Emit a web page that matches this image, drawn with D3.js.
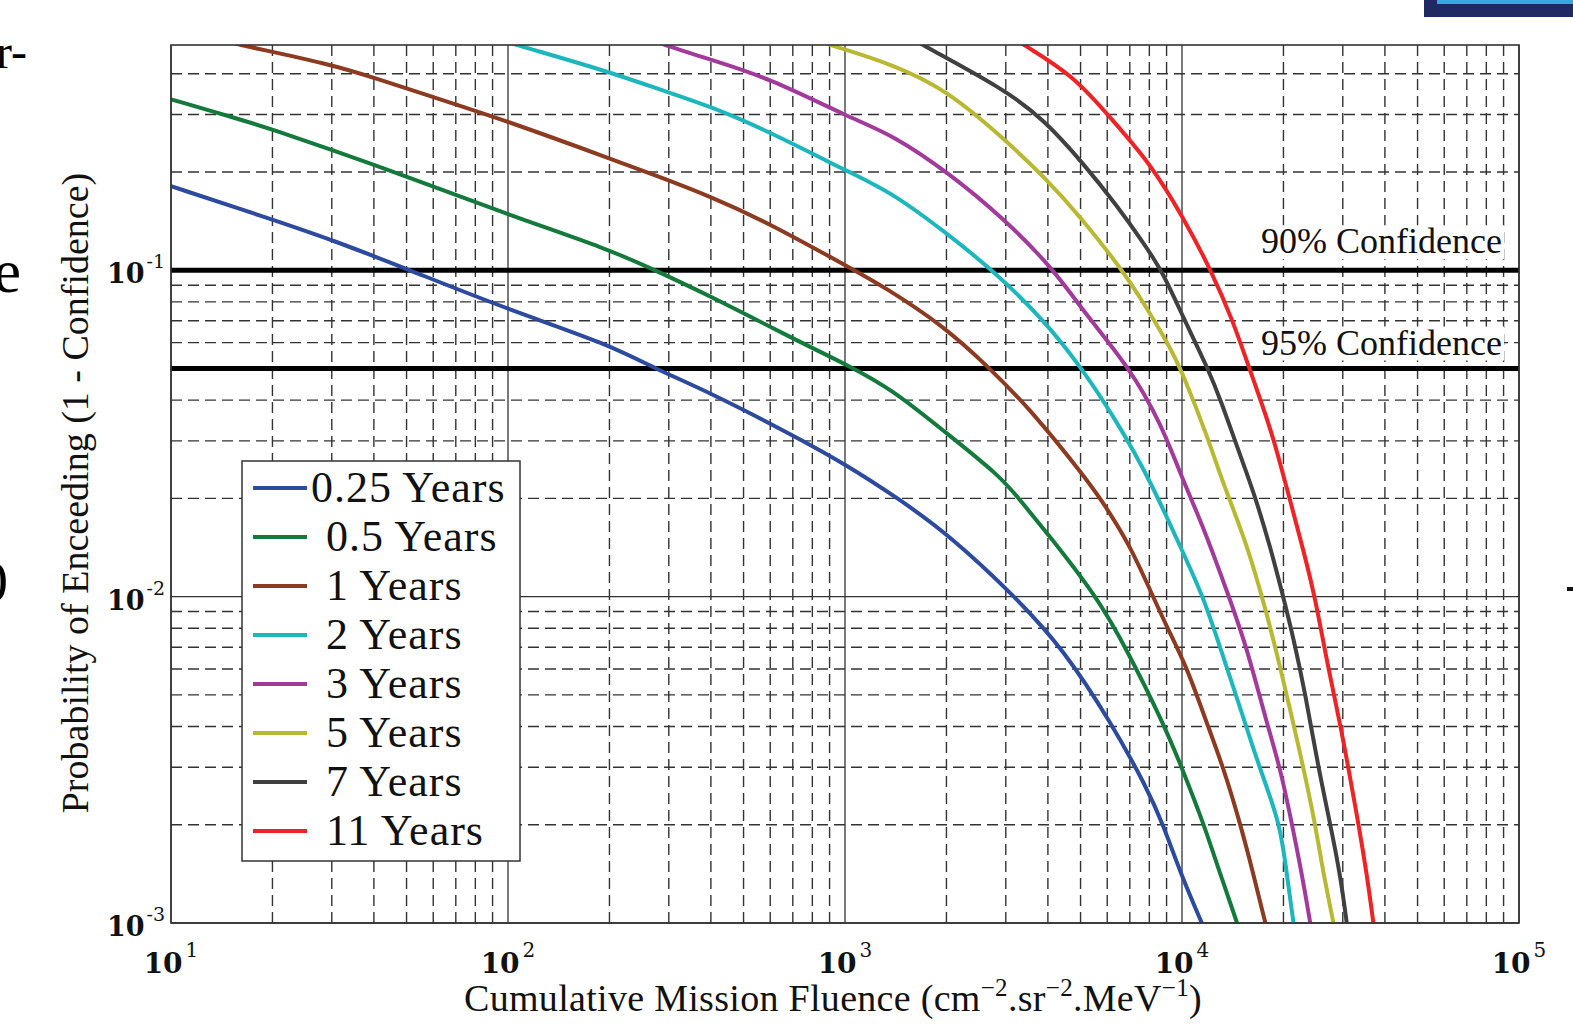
<!DOCTYPE html>
<html>
<head>
<meta charset="utf-8">
<script src="https://cdn.jsdelivr.net/npm/d3@7"></script>
<style>
  body { margin: 0; background: #fff; }
  svg { display: block; }
</style>
</head>
<body>
<svg width="1573" height="1028"></svg>
<script>
// Data ======================================================
// each series: [fluence, probability of exceeding]

var seriesNames = ["0.25 Years", "0.5 Years", "1 Years", "2 Years",
                   "3 Years", "5 Years", "7 Years", "11 Years"];
var seriesColors = ["#2c4b9e", "#137a3b", "#8c3a20", "#1db6bc",
                    "#a23a9c", "#b9b833", "#404040", "#ee2326"];

var years025 = [[10,0.181],[20,0.143],[30,0.124],[50,0.101],[100,0.0758],[200,0.0592],
  [270,0.0502],[400,0.0421],[710,0.031],[1000,0.0255],[1450,0.0199],[2060,0.0153],
  [3200,0.0100],[4450,0.0069],[6170,0.0041],[7830,0.00262],[8800,0.0020],[9900,0.00142],
  [11400,0.00101],[11700,0.00095]];
var years05 = [[10,0.334],[15.5,0.293],[20,0.270],[30,0.234],[50,0.194],[100,0.148],
  [200,0.1157],[270,0.1005],[400,0.0832],[710,0.0613],[1035,0.0508],[1380,0.0431],
  [1970,0.0321],[2890,0.0234],[3300,0.0198],[3970,0.0157],[5590,0.0100],
  [6850,0.0069],[8800,0.0041],[9980,0.0030],[11570,0.00203],[12960,0.00142],
  [14530,0.00101],[14800,0.00095]];
var years1 = [[15,0.50],[16,0.49],[30,0.427],[40,0.389],[59,0.341],[100,0.286],[198,0.221],
  [270,0.1965],[398,0.1686],[593,0.1397],[1035,0.1017],[1300,0.0893],[1970,0.0673],
  [2650,0.0508],[3560,0.0374],[5230,0.0228],[5980,0.0187],[7010,0.0143],[8035,0.0105],
  [9000,0.0081],[10330,0.0061],[11840,0.0041],[13260,0.0030],[14860,0.00203],
  [16270,0.00142],[17630,0.00101],[17900,0.00095]];
var years2 = [[100,0.50],[106,0.49],[198,0.407],[300,0.35],[398,0.318],[593,0.2667],
  [1035,0.199],[1380,0.1727],[2000,0.130],[2730,0.1005],[3890,0.0706],[5080,0.0496],
  [6440,0.0341],[8035,0.0228],[9980,0.0139],[11570,0.0100],[12960,0.0070],[14860,0.0046],
  [17040,0.00295],[19540,0.00203],[20450,0.00142],[21390,0.00101],[21600,0.00095]];
var years3 = [[280,0.50],[291,0.49],[398,0.442],[593,0.389],[1035,0.293],[1380,0.2605],
  [2030,0.199],[2980,0.143],[4130,0.1017],[5230,0.0723],[6935,0.0508],[8660,0.0341],
  [10040,0.0228],[11570,0.0164],[13880,0.0098],[15560,0.0070],[17840,0.0041],
  [19540,0.0030],[21160,0.00203],[22660,0.00142],[23990,0.00101],[24200,0.00095]];
var years5 = [[880,0.50],[898,0.49],[967,0.480],[1380,0.427],[2000,0.358],[2980,0.2514],
  [3890,0.194],[5080,0.143],[6630,0.1005],[7690,0.0795],[9190,0.0585],[10040,0.0485],
  [11990,0.0303],[13110,0.0228],[15560,0.0146],[17840,0.0089],[19540,0.0061],
  [21390,0.0041],[22900,0.0030],[24810,0.00203],[26260,0.00142],[28110,0.00101],[28400,0.00095]];
var years7 = [[1650,0.50],[1700,0.49],[2980,0.358],[3890,0.2895],[5080,0.2134],[6440,0.157],
  [7690,0.1213],[8790,0.0983],[10040,0.0723],[11990,0.0496],[13110,0.0392],[14320,0.0303],
  [15650,0.0235],[16660,0.0195],[18240,0.0143],[19970,0.0100],[21390,0.0075],
  [23170,0.0051],[25370,0.0030],[27480,0.00203],[29430,0.00142],[30800,0.00101],[31000,0.00095]];
var years11 = [[3300,0.50],[3400,0.49],[4790,0.393],[6070,0.2965],[8035,0.2134],
  [10040,0.1464],[12170,0.1005],[14120,0.0706],[15890,0.0496],[17370,0.0383],
  [18710,0.0303],[20150,0.0228],[20910,0.0198],[22900,0.0139],[24810,0.0100],
  [27180,0.0060],[29430,0.0041],[31140,0.0030],[33340,0.00203],[35320,0.00142],
  [36940,0.00101],[37200,0.00095]];

var allSeries = [years025, years05, years1, years2, years3, years5, years7, years11];

var xTicks = [1e1, 1e2, 1e3, 1e4, 1e5];
var xTickExp = ["1", "2", "3", "4", "5"];
var yTicks = [1e-3, 1e-2, 1e-1];
var yTickExp = ["-3", "-2", "-1"];

var confLevels = [0.1, 0.05];
var confLabels = ["90% Confidence", "95% Confidence"];

// globals ==================================================

var svg = d3.select("svg");
var plotLeft = 171, plotRight = 1519, plotTop = 45, plotBottom = 923;

var x = d3.scaleLog().domain([10, 1e5]).range([plotLeft, plotRight]);
var y = d3.scaleLog().domain([1e-3, 0.49]).range([plotBottom, plotTop]);

var serif = "'Liberation Serif', 'Times New Roman', serif";
var tickFont = "'DejaVu Serif', serif";

// slide fragments around the figure
svg.append("rect").attr("x", 1424).attr("y", 0).attr("width", 149).attr("height", 17)
   .attr("fill", "#1f2a62");
svg.append("rect").attr("x", 1437).attr("y", 0).attr("width", 136).attr("height", 4)
   .attr("fill", "#36a8df");
svg.append("text").attr("x", 27).attr("y", 68).attr("text-anchor", "end")
   .style("font-family", serif).style("font-size", "48px").text("r-");
svg.append("text").attr("x", 21).attr("y", 292).attr("text-anchor", "end")
   .style("font-family", serif).style("font-size", "62px").text("e");
svg.append("text").attr("x", 8).attr("y", 601).attr("text-anchor", "end")
   .style("font-family", serif).style("font-size", "58px").text("0");
svg.append("rect").attr("x", 1567).attr("y", 587).attr("width", 6).attr("height", 4)
   .attr("fill", "#111");

// Grid ======================================================

var xMinor = [], yMinor = [];
[1, 2, 3, 4].forEach(function(d) {
  for (var k = 2; k <= 9; k++) xMinor.push(k * Math.pow(10, d));
});
[-3, -2, -1].forEach(function(d) {
  for (var k = 2; k <= 9; k++) {
    var v = k * Math.pow(10, d);
    if (v < 0.49) yMinor.push(v);
  }
});

var grid = svg.append("g").attr("class", "grid");

grid.selectAll(".xminor").data(xMinor).enter().append("line")
  .attr("x1", function(d) { return x(d); }).attr("x2", function(d) { return x(d); })
  .attr("y1", plotTop).attr("y2", plotBottom)
  .attr("stroke", "#333").attr("stroke-width", 1.4).attr("stroke-dasharray", "11,6");

grid.selectAll(".yminor").data(yMinor).enter().append("line")
  .attr("y1", function(d) { return y(d); }).attr("y2", function(d) { return y(d); })
  .attr("x1", plotLeft).attr("x2", plotRight)
  .attr("stroke", "#333").attr("stroke-width", 1.4).attr("stroke-dasharray", "11,6");

grid.selectAll(".xmajor").data(xTicks).enter().append("line")
  .attr("x1", function(d) { return x(d); }).attr("x2", function(d) { return x(d); })
  .attr("y1", plotTop).attr("y2", plotBottom)
  .attr("stroke", "#333").attr("stroke-width", 1.3);

grid.selectAll(".ymajor").data(yTicks).enter().append("line")
  .attr("y1", function(d) { return y(d); }).attr("y2", function(d) { return y(d); })
  .attr("x1", plotLeft).attr("x2", plotRight)
  .attr("stroke", "#333").attr("stroke-width", 1.3);

// Confidence lines ==========================================

svg.selectAll(".conf").data(confLevels).enter().append("line")
  .attr("x1", plotLeft).attr("x2", plotRight)
  .attr("y1", function(d) { return y(d); }).attr("y2", function(d) { return y(d); })
  .attr("stroke", "#000").attr("stroke-width", 5);

var confG = svg.selectAll(".conflabel").data(confLevels).enter().append("g");
confG.each(function(d, i) {
  var g = d3.select(this);
  var base = y(d) - (i == 0 ? 17 : 14);
  var t = g.append("text")
    .attr("x", 1502).attr("y", base).attr("text-anchor", "end")
    .style("font-family", serif).style("font-size", "36px").attr("fill", "#111")
    .text(confLabels[i]);
  var bb = t.node().getBBox();
  g.insert("rect", "text")
    .attr("x", bb.x - 4).attr("y", bb.y + 4).attr("width", bb.width + 6).attr("height", bb.height - 6)
    .attr("fill", "#fff");
});

// Curves ====================================================

svg.append("clipPath").attr("id", "plotclip").append("rect")
  .attr("x", plotLeft).attr("y", plotTop)
  .attr("width", plotRight - plotLeft).attr("height", plotBottom - plotTop);

var line = d3.line()
  .x(function(d) { return x(d[0]); })
  .y(function(d) { return y(d[1]); })
  .curve(d3.curveBasis);

svg.append("g").attr("clip-path", "url(#plotclip)")
  .selectAll("path").data(allSeries).enter().append("path")
  .attr("d", line)
  .attr("fill", "none")
  .attr("stroke", function(d, i) { return seriesColors[i]; })
  .attr("stroke-width", 4)
  .attr("stroke-linejoin", "round");

// Axes box ==================================================

svg.append("rect").attr("x", plotLeft).attr("y", plotTop)
  .attr("width", plotRight - plotLeft).attr("height", plotBottom - plotTop)
  .attr("fill", "none").attr("stroke", "#333").attr("stroke-width", 1.6);

// tick labels
var xl = svg.selectAll(".xtick").data(xTicks).enter().append("text")
  .attr("x", function(d) { return x(d); }).attr("y", 973)
  .attr("text-anchor", "middle")
  .style("font-family", tickFont).style("font-size", "28px")
  .style("font-weight", "bold").attr("fill", "#111");
xl.append("tspan").text("10");
xl.append("tspan").attr("dy", -16).attr("dx", 3).style("font-size", "20px")
  .style("font-weight", "normal")
  .text(function(d, i) { return xTickExp[i]; });

var yl = svg.selectAll(".ytick").data(yTicks).enter().append("text")
  .attr("x", 165).attr("y", function(d) { return y(d) + 13; })
  .attr("text-anchor", "end")
  .style("font-family", tickFont).style("font-size", "27px")
  .style("font-weight", "bold").attr("fill", "#111");
yl.append("tspan").text("10");
yl.append("tspan").attr("dy", -15).attr("dx", 2).style("font-size", "19px")
  .style("font-weight", "normal")
  .text(function(d, i) { return yTickExp[i]; });

// axis labels
var xlab = svg.append("text").attr("x", 833).attr("y", 1011).attr("text-anchor", "middle")
  .style("font-family", serif).style("font-size", "38px").style("letter-spacing", "0.3px")
  .attr("fill", "#111");
xlab.append("tspan").text("Cumulative Mission Fluence (cm");
xlab.append("tspan").attr("dy", -15).style("font-size", "25px").text("\u22122");
xlab.append("tspan").attr("dy", 15).text(".sr");
xlab.append("tspan").attr("dy", -15).style("font-size", "25px").text("\u22122");
xlab.append("tspan").attr("dy", 15).text(".MeV");
xlab.append("tspan").attr("dy", -15).style("font-size", "25px").text("\u22121");
xlab.append("tspan").attr("dy", 15).text(")");

svg.append("text").attr("transform", "translate(88,493) rotate(-90)")
  .attr("text-anchor", "middle")
  .style("font-family", serif).style("font-size", "38px").attr("fill", "#111")
  .text("Probability of Enceeding (1 - Confidence)");

// Legend ====================================================

var legend = svg.append("g").attr("class", "legend");
legend.append("rect").attr("x", 242).attr("y", 461).attr("width", 278).attr("height", 400)
  .attr("fill", "#fff").attr("stroke", "#333").attr("stroke-width", 1.5);

var rowY = d3.scaleLinear().domain([0, seriesNames.length - 1]).range([488, 831]);
var items = legend.selectAll(".item").data(seriesNames).enter().append("g");
items.append("line")
  .attr("x1", 253).attr("x2", 307)
  .attr("y1", function(d, i) { return rowY(i); }).attr("y2", function(d, i) { return rowY(i); })
  .attr("stroke", function(d, i) { return seriesColors[i]; }).attr("stroke-width", 4);
items.append("text")
  .attr("x", function(d, i) { return i == 0 ? 311 : 326; })
  .attr("y", function(d, i) { return rowY(i) + 14; })
  .style("font-family", serif).style("font-size", "44px").style("letter-spacing", "1px")
  .attr("fill", "#111")
  .text(function(d) { return d; });
</script>
</body>
</html>
